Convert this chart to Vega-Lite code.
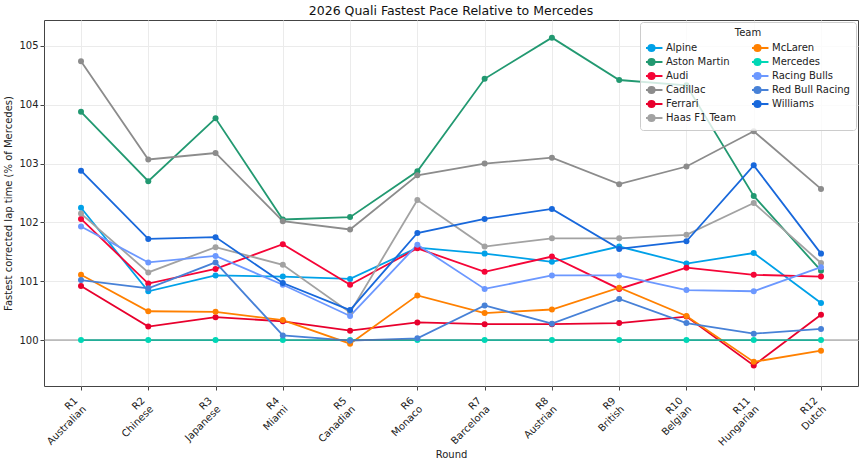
{
  "$schema": "https://vega.github.io/schema/vega-lite/v6.json",
  "title": {"text": "2026 Quali Fastest Pace Relative to Mercedes", "fontSize": 12.5, "fontWeight": "normal", "font": "DejaVu Sans", "color": "#111", "offset": 3},
  "autosize": {"type": "none"},
  "padding": {"left": 44, "top": 20, "right": 7, "bottom": 77},
  "width": 814,
  "height": 366,
  "background": "white",
  "config": {
    "font": "DejaVu Sans",
    "view": {"stroke": "#444", "strokeWidth": 1},
    "axis": {"gridColor": "#ebebeb", "domain": false, "labelFontSize": 10, "titleFontSize": 10, "titleFontWeight": "normal", "labelColor": "#222", "titleColor": "#222", "tickColor": "#444", "tickSize": 4}
  },
  "datasets": {
    "pace": [
      {"round": "R1 Australian", "team": "Alpine", "pct": 102.25},
      {"round": "R2 Chinese", "team": "Alpine", "pct": 100.83},
      {"round": "R3 Japanese", "team": "Alpine", "pct": 101.10},
      {"round": "R4 Miami", "team": "Alpine", "pct": 101.08},
      {"round": "R5 Canadian", "team": "Alpine", "pct": 101.04},
      {"round": "R6 Monaco", "team": "Alpine", "pct": 101.57},
      {"round": "R7 Barcelona", "team": "Alpine", "pct": 101.47},
      {"round": "R8 Austrian", "team": "Alpine", "pct": 101.33},
      {"round": "R9 British", "team": "Alpine", "pct": 101.59},
      {"round": "R10 Belgian", "team": "Alpine", "pct": 101.30},
      {"round": "R11 Hungarian", "team": "Alpine", "pct": 101.48},
      {"round": "R12 Dutch", "team": "Alpine", "pct": 100.63},

      {"round": "R1 Australian", "team": "Aston Martin", "pct": 103.88},
      {"round": "R2 Chinese", "team": "Aston Martin", "pct": 102.70},
      {"round": "R3 Japanese", "team": "Aston Martin", "pct": 103.77},
      {"round": "R4 Miami", "team": "Aston Martin", "pct": 102.05},
      {"round": "R5 Canadian", "team": "Aston Martin", "pct": 102.09},
      {"round": "R6 Monaco", "team": "Aston Martin", "pct": 102.87},
      {"round": "R7 Barcelona", "team": "Aston Martin", "pct": 104.44},
      {"round": "R8 Austrian", "team": "Aston Martin", "pct": 105.14},
      {"round": "R9 British", "team": "Aston Martin", "pct": 104.42},
      {"round": "R10 Belgian", "team": "Aston Martin", "pct": 104.33},
      {"round": "R11 Hungarian", "team": "Aston Martin", "pct": 102.45},
      {"round": "R12 Dutch", "team": "Aston Martin", "pct": 101.18},

      {"round": "R1 Australian", "team": "Audi", "pct": 102.06},
      {"round": "R2 Chinese", "team": "Audi", "pct": 100.96},
      {"round": "R3 Japanese", "team": "Audi", "pct": 101.21},
      {"round": "R4 Miami", "team": "Audi", "pct": 101.63},
      {"round": "R5 Canadian", "team": "Audi", "pct": 100.94},
      {"round": "R6 Monaco", "team": "Audi", "pct": 101.56},
      {"round": "R7 Barcelona", "team": "Audi", "pct": 101.16},
      {"round": "R8 Austrian", "team": "Audi", "pct": 101.42},
      {"round": "R9 British", "team": "Audi", "pct": 100.87},
      {"round": "R10 Belgian", "team": "Audi", "pct": 101.23},
      {"round": "R11 Hungarian", "team": "Audi", "pct": 101.11},
      {"round": "R12 Dutch", "team": "Audi", "pct": 101.08},

      {"round": "R1 Australian", "team": "Cadillac", "pct": 104.74},
      {"round": "R2 Chinese", "team": "Cadillac", "pct": 103.07},
      {"round": "R3 Japanese", "team": "Cadillac", "pct": 103.18},
      {"round": "R4 Miami", "team": "Cadillac", "pct": 102.02},
      {"round": "R5 Canadian", "team": "Cadillac", "pct": 101.88},
      {"round": "R6 Monaco", "team": "Cadillac", "pct": 102.80},
      {"round": "R7 Barcelona", "team": "Cadillac", "pct": 103.00},
      {"round": "R8 Austrian", "team": "Cadillac", "pct": 103.10},
      {"round": "R9 British", "team": "Cadillac", "pct": 102.65},
      {"round": "R10 Belgian", "team": "Cadillac", "pct": 102.95},
      {"round": "R11 Hungarian", "team": "Cadillac", "pct": 103.55},
      {"round": "R12 Dutch", "team": "Cadillac", "pct": 102.57},

      {"round": "R1 Australian", "team": "Ferrari", "pct": 100.92},
      {"round": "R2 Chinese", "team": "Ferrari", "pct": 100.23},
      {"round": "R3 Japanese", "team": "Ferrari", "pct": 100.39},
      {"round": "R4 Miami", "team": "Ferrari", "pct": 100.32},
      {"round": "R5 Canadian", "team": "Ferrari", "pct": 100.16},
      {"round": "R6 Monaco", "team": "Ferrari", "pct": 100.30},
      {"round": "R7 Barcelona", "team": "Ferrari", "pct": 100.27},
      {"round": "R8 Austrian", "team": "Ferrari", "pct": 100.27},
      {"round": "R9 British", "team": "Ferrari", "pct": 100.29},
      {"round": "R10 Belgian", "team": "Ferrari", "pct": 100.40},
      {"round": "R11 Hungarian", "team": "Ferrari", "pct": 99.57},
      {"round": "R12 Dutch", "team": "Ferrari", "pct": 100.43},

      {"round": "R1 Australian", "team": "Haas F1 Team", "pct": 102.15},
      {"round": "R2 Chinese", "team": "Haas F1 Team", "pct": 101.15},
      {"round": "R3 Japanese", "team": "Haas F1 Team", "pct": 101.58},
      {"round": "R4 Miami", "team": "Haas F1 Team", "pct": 101.28},
      {"round": "R5 Canadian", "team": "Haas F1 Team", "pct": 100.47},
      {"round": "R6 Monaco", "team": "Haas F1 Team", "pct": 102.38},
      {"round": "R7 Barcelona", "team": "Haas F1 Team", "pct": 101.59},
      {"round": "R8 Austrian", "team": "Haas F1 Team", "pct": 101.73},
      {"round": "R9 British", "team": "Haas F1 Team", "pct": 101.73},
      {"round": "R10 Belgian", "team": "Haas F1 Team", "pct": 101.79},
      {"round": "R11 Hungarian", "team": "Haas F1 Team", "pct": 102.33},
      {"round": "R12 Dutch", "team": "Haas F1 Team", "pct": 101.31},

      {"round": "R1 Australian", "team": "McLaren", "pct": 101.11},
      {"round": "R2 Chinese", "team": "McLaren", "pct": 100.49},
      {"round": "R3 Japanese", "team": "McLaren", "pct": 100.48},
      {"round": "R4 Miami", "team": "McLaren", "pct": 100.34},
      {"round": "R5 Canadian", "team": "McLaren", "pct": 99.94},
      {"round": "R6 Monaco", "team": "McLaren", "pct": 100.76},
      {"round": "R7 Barcelona", "team": "McLaren", "pct": 100.46},
      {"round": "R8 Austrian", "team": "McLaren", "pct": 100.52},
      {"round": "R9 British", "team": "McLaren", "pct": 100.89},
      {"round": "R10 Belgian", "team": "McLaren", "pct": 100.41},
      {"round": "R11 Hungarian", "team": "McLaren", "pct": 99.63},
      {"round": "R12 Dutch", "team": "McLaren", "pct": 99.82},

      {"round": "R1 Australian", "team": "Mercedes", "pct": 100},
      {"round": "R2 Chinese", "team": "Mercedes", "pct": 100},
      {"round": "R3 Japanese", "team": "Mercedes", "pct": 100},
      {"round": "R4 Miami", "team": "Mercedes", "pct": 100},
      {"round": "R5 Canadian", "team": "Mercedes", "pct": 100},
      {"round": "R6 Monaco", "team": "Mercedes", "pct": 100},
      {"round": "R7 Barcelona", "team": "Mercedes", "pct": 100},
      {"round": "R8 Austrian", "team": "Mercedes", "pct": 100},
      {"round": "R9 British", "team": "Mercedes", "pct": 100},
      {"round": "R10 Belgian", "team": "Mercedes", "pct": 100},
      {"round": "R11 Hungarian", "team": "Mercedes", "pct": 100},
      {"round": "R12 Dutch", "team": "Mercedes", "pct": 100},

      {"round": "R1 Australian", "team": "Racing Bulls", "pct": 101.93},
      {"round": "R2 Chinese", "team": "Racing Bulls", "pct": 101.32},
      {"round": "R3 Japanese", "team": "Racing Bulls", "pct": 101.43},
      {"round": "R4 Miami", "team": "Racing Bulls", "pct": 100.94},
      {"round": "R5 Canadian", "team": "Racing Bulls", "pct": 100.41},
      {"round": "R6 Monaco", "team": "Racing Bulls", "pct": 101.62},
      {"round": "R7 Barcelona", "team": "Racing Bulls", "pct": 100.87},
      {"round": "R8 Austrian", "team": "Racing Bulls", "pct": 101.10},
      {"round": "R9 British", "team": "Racing Bulls", "pct": 101.10},
      {"round": "R10 Belgian", "team": "Racing Bulls", "pct": 100.85},
      {"round": "R11 Hungarian", "team": "Racing Bulls", "pct": 100.83},
      {"round": "R12 Dutch", "team": "Racing Bulls", "pct": 101.24},

      {"round": "R1 Australian", "team": "Red Bull Racing", "pct": 101.02},
      {"round": "R2 Chinese", "team": "Red Bull Racing", "pct": 100.88},
      {"round": "R3 Japanese", "team": "Red Bull Racing", "pct": 101.32},
      {"round": "R4 Miami", "team": "Red Bull Racing", "pct": 100.08},
      {"round": "R5 Canadian", "team": "Red Bull Racing", "pct": 99.99},
      {"round": "R6 Monaco", "team": "Red Bull Racing", "pct": 100.03},
      {"round": "R7 Barcelona", "team": "Red Bull Racing", "pct": 100.59},
      {"round": "R8 Austrian", "team": "Red Bull Racing", "pct": 100.28},
      {"round": "R9 British", "team": "Red Bull Racing", "pct": 100.70},
      {"round": "R10 Belgian", "team": "Red Bull Racing", "pct": 100.29},
      {"round": "R11 Hungarian", "team": "Red Bull Racing", "pct": 100.11},
      {"round": "R12 Dutch", "team": "Red Bull Racing", "pct": 100.19},

      {"round": "R1 Australian", "team": "Williams", "pct": 102.88},
      {"round": "R2 Chinese", "team": "Williams", "pct": 101.72},
      {"round": "R3 Japanese", "team": "Williams", "pct": 101.75},
      {"round": "R4 Miami", "team": "Williams", "pct": 100.97},
      {"round": "R5 Canadian", "team": "Williams", "pct": 100.51},
      {"round": "R6 Monaco", "team": "Williams", "pct": 101.82},
      {"round": "R7 Barcelona", "team": "Williams", "pct": 102.06},
      {"round": "R8 Austrian", "team": "Williams", "pct": 102.23},
      {"round": "R9 British", "team": "Williams", "pct": 101.55},
      {"round": "R10 Belgian", "team": "Williams", "pct": 101.68},
      {"round": "R11 Hungarian", "team": "Williams", "pct": 102.97},
      {"round": "R12 Dutch", "team": "Williams", "pct": 101.47}
    ]
  },
  "data": {"name": "pace"},
  "encoding": {
    "x": {
      "field": "round",
      "type": "ordinal",
      "sort": null,
      "scale": {"type": "point", "padding": 0.55},
      "axis": {"title": "Round", "labelAngle": -45, "labelAlign": "right", "labelBaseline": "top", "labelExpr": "split(datum.value, ' ')", "labelLineHeight": 12, "labelOffset": -9, "labelPadding": 5, "titlePadding": 2, "grid": true}
    },
    "y": {
      "field": "pct",
      "type": "quantitative",
      "scale": {"domain": [99.22, 105.44], "nice": false, "zero": false},
      "axis": {"title": "Fastest corrected lap time (% of Mercedes)", "values": [100, 101, 102, 103, 104, 105], "titlePadding": 5}
    },
    "color": {
      "field": "team",
      "type": "nominal",
      "scale": {
        "domain": ["Alpine", "Aston Martin", "Audi", "Cadillac", "Ferrari", "Haas F1 Team", "McLaren", "Mercedes", "Racing Bulls", "Red Bull Racing", "Williams"],
        "range": ["#00a1e8", "#229971", "#f50537", "#8c8c8c", "#e8002d", "#a2a2a2", "#ff8000", "#00d7b6", "#6c98ff", "#4781d7", "#1868db"]
      },
      "legend": {
        "title": "Team",
        "orient": "top-right",
        "offset": 2,
        "columns": 2,
        "columnPadding": 16,
        "rowPadding": 2,
        "clipHeight": 12,
        "padding": 6,
        "titlePadding": 4,
        "fillColor": "rgba(255,255,255,0.8)",
        "strokeColor": "#cccccc",
        "cornerRadius": 3,
        "titleAnchor": "middle",
        "titleFontWeight": "normal",
        "titleFontSize": 10,
        "labelFontSize": 10,
        "labelColor": "#222",
        "titleColor": "#222",
        "symbolType": "M -2.5 0 L 2.5 0 M 0.7 0 A 0.7 0.7 0 1 1 -0.7 0 A 0.7 0.7 0 1 1 0.7 0",
        "symbolSize": 77,
        "symbolStrokeWidth": 2,
        "symbolOpacity": 1,
        "labelOffset": 9
      }
    }
  },
  "layer": [
    {"mark": {"type": "line", "strokeWidth": 1.8}},
    {
      "data": {"values": [{"ref": 100}]},
      "mark": {"type": "rule", "color": "#606060", "strokeWidth": 2, "opacity": 0.35},
      "encoding": {"y": {"field": "ref", "type": "quantitative"}, "x": null, "color": null}
    },
    {"mark": {"type": "circle", "size": 36, "opacity": 1}}
  ]
}
